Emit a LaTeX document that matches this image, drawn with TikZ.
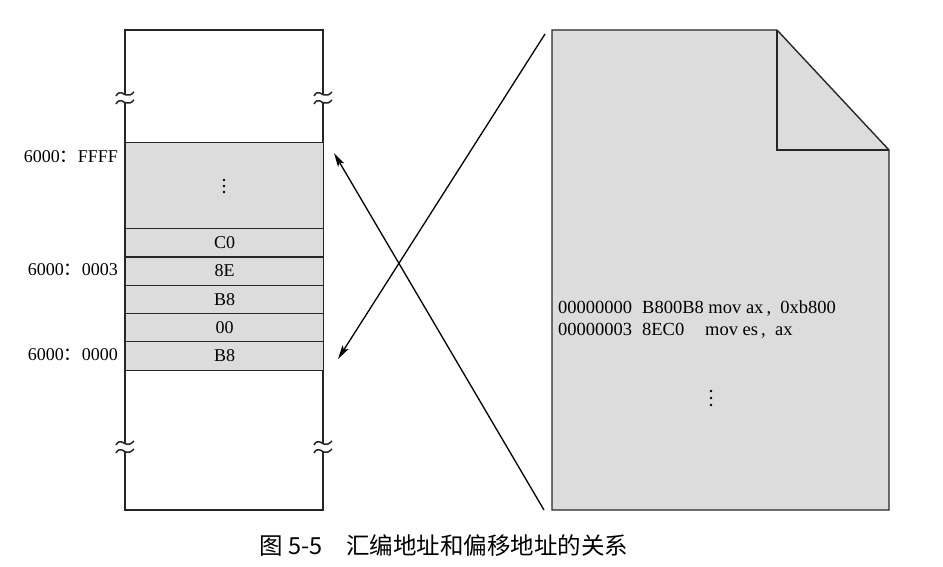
\documentclass[tikz,border=0pt]{standalone}
\usepackage{fontspec}
\setmainfont{Liberation Serif}
\newfontfamily\cjkfont{Noto Sans CJK SC}
\usetikzlibrary{arrows.meta}

\definecolor{cellgray}{RGB}{220,220,220}

\tikzset{
  frame/.style={line width=1.4pt, draw=black!85},
  cell/.style={draw=black!85, line width=1.2pt, fill=cellgray,
    minimum width=198pt, minimum height=28.3pt, inner sep=0pt, anchor=north west,
    font=\fontsize{18}{20}\selectfont},
  addr/.style={anchor=east, inner sep=0pt, font=\fontsize{18}{20}\selectfont},
  code/.style={anchor=west, inner sep=0pt, font=\fontsize{18.5}{20}\selectfont},
  link/.style={line width=1.3pt, -{Stealth[length=14pt,width=7pt,inset=3pt]}},
  brk/.style={line width=1.5pt, draw=black!85},
  vdot/.style={fill=black, draw=none}
}

% a pair of wavy strokes marking a break in a vertical edge
\newcommand\breakmark[2]{%
  \draw[brk] (#1-9,#2-2) .. controls (#1-5,#2-9) and (#1-1,#2-3) .. (#1+1,#2-3)
             .. controls (#1+4,#2-2) and (#1+6,#2-3) .. (#1+9,#2-6);
  \draw[brk] (#1-9,#2+6) .. controls (#1-5,#2-1) and (#1-1,#2+5) .. (#1+1,#2+5)
             .. controls (#1+4,#2+6) and (#1+6,#2+5) .. (#1+9,#2+2);
}
% three stacked dots (vertical ellipsis)
\newcommand\vdotsat[3]{%
  \fill[vdot] (#1,#2-#3) circle (1.4);
  \fill[vdot] (#1,#2) circle (1.4);
  \fill[vdot] (#1,#2+#3) circle (1.4);
}
\newcommand\fwcolon{{\cjkfont ：}}

\begin{document}
\begin{tikzpicture}[x=1pt,y=-1pt]
\useasboundingbox (0,0) rectangle (943,567);

% memory column frame with break marks
\draw[frame] (125,94) -- (125,30) -- (323,30) -- (323,94);
\draw[frame] (125,102) -- (125,443);
\draw[frame] (323,102) -- (323,443);
\draw[frame] (125,451) -- (125,510) -- (323,510) -- (323,451);
\breakmark{125}{98}
\breakmark{323}{98}
\breakmark{125}{447}
\breakmark{323}{447}

% memory cells
\node[cell, minimum height=86pt] (top) at (125,142) {};
\vdotsat{224}{186}{6}
\node[cell] (c0) at (125,228) {C0};
\node[cell] (c8e) at (125,256.3) {8E};
\node[cell] (cb8a) at (125,284.6) {B8};
\node[cell] (c00) at (125,312.9) {00};
\node[cell] (cb8b) at (125,341.2) {B8};

% segment:offset addresses
\node[addr] (aF) at (118,157) {6000\fwcolon FFFF};
\node[addr] (a3) at (118,270) {6000\fwcolon 0003};
\node[addr] (a0) at (118,355) {6000\fwcolon 0000};

% listing page with a folded corner
\coordinate (ptl) at (552,30);
\coordinate (pfold) at (777,30);
\coordinate (pcorner) at (889,150);
\coordinate (pbr) at (889,510);
\coordinate (pbl) at (552,510);
\filldraw[frame, fill=cellgray] (ptl) -- (pfold) -- (pcorner) -- (pbr) -- (pbl) -- cycle;
\draw[frame] (pfold) -- (777,150) -- (pcorner);

\node[code] (l1) at (558,309) {\makebox[84pt][l]{00000000}B800B8 mov ax\,, \ 0xb800};
\node[code] (l2) at (558,331) {\makebox[84pt][l]{00000003}\makebox[63pt][l]{8EC0}mov es\,, \ ax};
\vdotsat{711}{398}{7}

% connectors between listing and memory
\coordinate (s1) at (544,510);
\coordinate (t1) at (334,153);
\coordinate (s2) at (545,34);
\coordinate (t2) at (338,359);
\draw[link] (s1) -- (t1);
\draw[link] (s2) -- (t2);

% caption
\node (cap) at (444,546) {\cjkfont\fontsize{23.5}{27}\selectfont 图 5-5\hspace{24pt}汇编地址和偏移地址的关系};
\end{tikzpicture}
\end{document}
